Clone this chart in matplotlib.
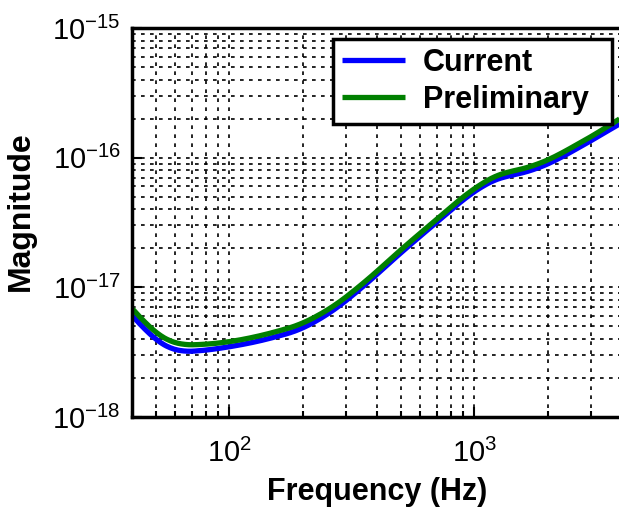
import numpy as np
import matplotlib
matplotlib.use("Agg")
import matplotlib.pyplot as plt
from matplotlib.ticker import NullFormatter

plt.rcParams['font.family'] = ['Liberation Sans', 'DejaVu Sans']
plt.rcParams['mathtext.fontset'] = 'custom'
plt.rcParams['mathtext.rm'] = 'Liberation Sans'
plt.rcParams['mathtext.it'] = 'Liberation Sans:italic'
plt.rcParams['mathtext.bf'] = 'Liberation Sans:bold'

# frequency points (Hz)
freq = [40.2, 47.6, 54.8, 61.9, 76.1, 100, 133.8, 194.9, 265.8, 365.9, 498.9,
        680.2, 936.3, 1130, 1277, 1541, 1774, 2101, 2466, 2892, 3268, 3907]

current = [6.02e-18, 4.22e-18, 3.47e-18, 3.18e-18, 3.23e-18, 3.47e-18, 3.86e-18,
           4.69e-18, 6.58e-18, 1.081e-17, 1.842e-17, 3.03e-17, 5.07e-17, 6.38e-17,
           7.10e-17, 7.49e-17, 8.18e-17, 9.27e-17, 1.106e-16, 1.298e-16,
           1.496e-16, 1.819e-16]

preliminary = [6.81e-18, 4.78e-18, 3.93e-18, 3.60e-18, 3.60e-18, 3.79e-18, 4.22e-18,
               5.13e-18, 7.06e-18, 1.140e-17, 1.942e-17, 3.19e-17, 5.34e-17, 6.73e-17,
               7.62e-17, 8.04e-17, 8.78e-17, 9.95e-17, 1.188e-16, 1.394e-16,
               1.607e-16, 1.988e-16]

xticks = [100, 1000]
yticks = [1e-18, 1e-17, 1e-16, 1e-15]
xlims = (40, 4000)
ylims = (1e-18, 1e-15)

fig = plt.figure(figsize=(6.19, 5.09), dpi=100)
ax = fig.add_axes([132/619, 1 - 417/509, 490/619, 389/509])

# smooth in log space so the thick lines look like the original curves
lf = np.log10(freq)
fine = np.linspace(lf[0], lf[-1], 400)
for vals, col, lab in [(current, 'blue', 'Current'), (preliminary, 'green', 'Preliminary')]:
    lv = np.interp(fine, lf, np.log10(vals))
    n = 12
    k = np.ones(2 * n + 1) / (2 * n + 1)
    pad = np.concatenate([2 * lv[0] - lv[n:0:-1], lv, 2 * lv[-1] - lv[-2:-n - 2:-1]])
    lv = np.convolve(pad, k, mode='valid')
    ax.plot(10**fine, 10**lv, color=col, lw=3.8, label=lab, solid_capstyle='butt')

ax.set_xscale('log')
ax.set_yscale('log')
ax.set_xticks(xticks)
ax.set_yticks(yticks)
ax.set_xlim(*xlims)
ax.set_ylim(*ylims)
ax.xaxis.set_minor_formatter(NullFormatter())
ax.yaxis.set_minor_formatter(NullFormatter())

grid_style = dict(color='black', linestyle=(0, (2.2, 3.2)), linewidth=1.2)
ax.grid(True, which='major', **grid_style)
ax.grid(True, which='minor', **grid_style)

ax.tick_params(which='both', direction='in', labelsize=21, width=1.5, colors='black')
ax.tick_params(which='major', length=7)
ax.tick_params(axis='x', which='major', pad=16)
ax.tick_params(axis='y', which='major', pad=8)
ax.tick_params(which='minor', length=4)
ax.tick_params(axis='y', which='minor', left=False, right=False)
for s in ax.spines.values():
    s.set_linewidth(2.5)

ax.set_xlabel('Frequency (Hz)', fontsize=22, fontweight='bold', labelpad=6)
ax.set_ylabel('Magnitude', fontsize=23, fontweight='bold')
ax.yaxis.set_label_coords(-0.197, 0.53)

leg = ax.legend(loc='upper right',
                bbox_to_anchor=(333/619, 1 - 122/509, 279/619, 83/509),
                bbox_transform=fig.transFigure, mode='expand',
                prop={'size': 22, 'weight': 'bold'}, fancybox=False, framealpha=1,
                handlelength=2.05, borderpad=0.3, labelspacing=0.21, handletextpad=0.6,
                borderaxespad=0)
leg.get_frame().set_edgecolor('black')
leg.get_frame().set_linewidth(2.5)

fig.savefig('out.png', dpi=100)
